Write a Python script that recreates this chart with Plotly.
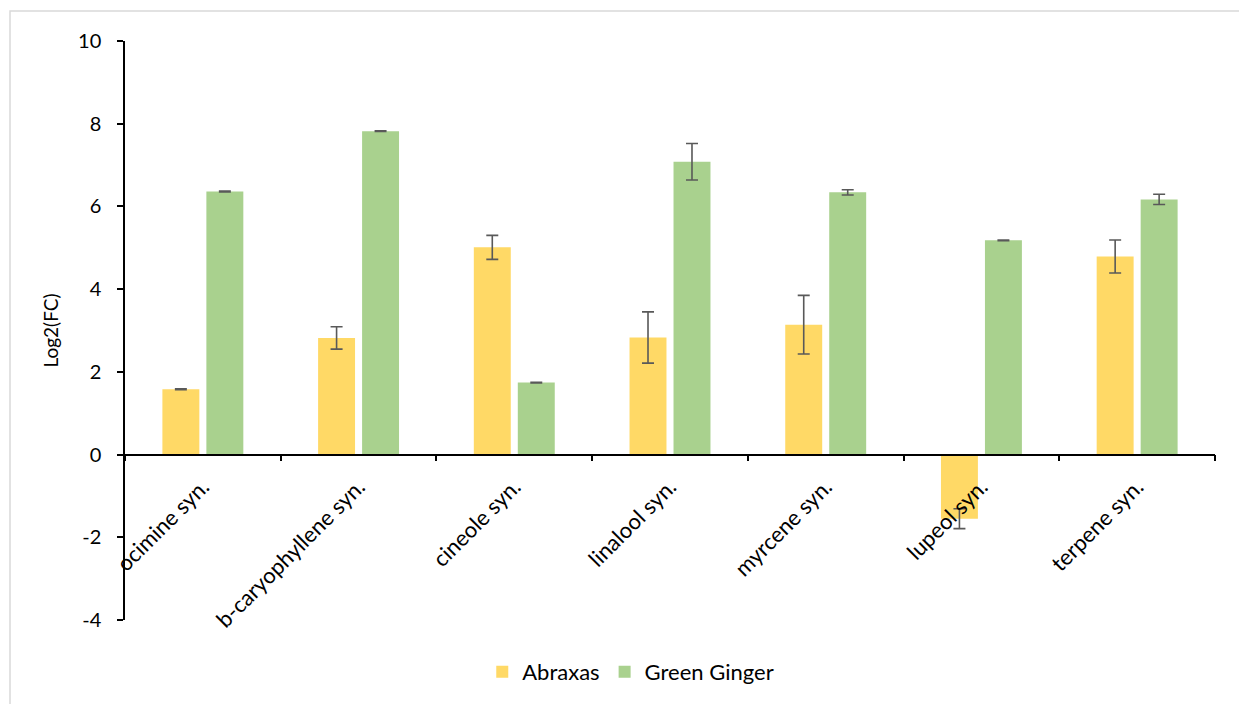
import plotly.graph_objects as go

categories = ["ocimine syn.", "b-caryophyllene syn.", "cineole syn.", "linalool syn.",
              "myrcene syn.", "lupeol syn.", "terpene syn."]
abraxas = [1.58, 2.82, 5.01, 2.83, 3.14, -1.55, 4.79]
abraxas_err = [0.01, 0.27, 0.29, 0.62, 0.71, 0.24, 0.40]
green_ginger = [6.36, 7.82, 1.74, 7.08, 6.34, 5.18, 6.17]
green_ginger_err = [0.01, 0.01, 0.01, 0.44, 0.065, 0.01, 0.125]
y_ticks = [-4, -2, 0, 2, 4, 6, 8, 10]

FONT = "Lato, Open Sans, sans-serif"
ERR_COLOR = "#595959"

fig = go.Figure()
fig.add_trace(go.Bar(
    x=categories, y=abraxas, name="Abraxas",
    marker=dict(color="#FFD966", line=dict(width=0)),
    error_y=dict(type="data", array=abraxas_err, visible=True,
                 color=ERR_COLOR, thickness=1.6, width=6),
))
fig.add_trace(go.Bar(
    x=categories, y=green_ginger, name="Green Ginger",
    marker=dict(color="#A9D18E", line=dict(width=0)),
    error_y=dict(type="data", array=green_ginger_err, visible=True,
                 color=ERR_COLOR, thickness=1.6, width=6),
))

fig.update_layout(
    width=1239, height=704,
    margin=dict(l=125, r=24, t=41, b=83),
    paper_bgcolor="white", plot_bgcolor="white",
    barmode="group", bargap=0.435, bargroupgap=0.16,
    font=dict(family=FONT, size=19, color="black"),
    legend=dict(orientation="h", x=0.464, y=-0.088, xanchor="center", yanchor="middle",
                font=dict(size=22), itemwidth=30, traceorder="normal"),
    showlegend=True,
)

fig.update_xaxes(
    anchor="free", position=4 / 14,
    showline=True, linecolor="black", linewidth=1.5,
    ticks="outside", tickson="boundaries", ticklen=6, tickcolor="black", tickwidth=1.5,
    tickangle=-45, tickfont=dict(size=22), ticklabelstandoff=10,
    showgrid=False, zeroline=False,
)
fig.update_yaxes(
    range=[-4, 10], tickvals=y_ticks, ticktext=[str(v) for v in y_ticks],
    showline=True, linecolor="black", linewidth=1.5,
    ticks="outside", ticklen=6, tickcolor="black", tickwidth=1.5,
    showgrid=False, zeroline=False, tickfont=dict(size=20), ticklabelstandoff=12,
    title=dict(text="Log2(FC)", font=dict(size=19), standoff=14),
)

# Light frame around the whole chart area
fig.add_shape(type="rect", xref="paper", yref="paper",
              x0=-0.1055, x1=1.2, y0=-0.3, y1=1.0517,
              line=dict(color="#D9D9D9", width=1.5), fillcolor="rgba(0,0,0,0)", layer="below")

fig.write_html("out.html")
